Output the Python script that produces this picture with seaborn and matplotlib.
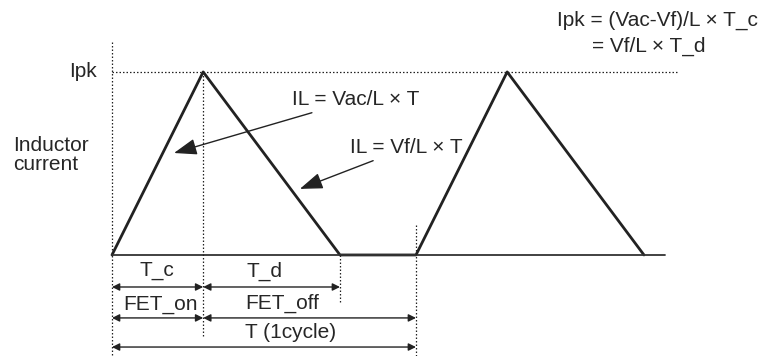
import matplotlib
matplotlib.use("Agg")
import matplotlib.pyplot as plt
import seaborn as sns
import pandas as pd

# --- data: inductor current waveform (critical conduction mode) ---
t_c = 3.0      # FET on time
t_d = 4.5      # diode conduction time
period = 10.0  # one switching cycle
t_end = 18.2   # end of drawn baseline
t_ref = 18.6   # end of the Ipk reference line

wave_t = [0.0, t_c, t_c + t_d, period, period + t_c, period + t_c + t_d]
wave_i = [0.0, 1.0, 0.0, 0.0, 1.0, 0.0]
base_t = [0.0, t_end]
base_i = [0.0, 0.0]

dim_labels = ["T_c", "T_d", "FET_on", "FET_off", "T (1cycle)"]

sns.set_theme(style="white")
plt.rcParams['font.family'] = ['Liberation Sans', 'DejaVu Sans']

fig = plt.figure(figsize=(7.75, 3.56), dpi=100)
ax = fig.add_axes([0, 0, 1, 1])
ax.set_xlim(-3.684, 21.81)
ax.set_ylim(-0.552, 1.393)
ax.axis("off")

# waveform
df = pd.DataFrame({"t": wave_t, "i": wave_i})
sns.lineplot(data=df, x="t", y="i", ax=ax, color="#222222", lw=2.0, sort=False)
sns.lineplot(x=base_t, y=base_i, ax=ax, color="#333333", lw=1.3)

# dotted guide lines
dot = dict(color="#222222", lw=0.9, ls=(0, (1.2, 1.6)))
ax.plot([0, t_ref], [1, 1], **dot)
ax.plot([0, 0], [1.164, -0.552], **dot)
ax.plot([t_c, t_c], [1, -0.448], **dot)
ax.plot([t_c + t_d, t_c + t_d], [0, -0.262], **dot)
ax.plot([period, period], [0.164, -0.552], **dot)

fs = 15
ax.text(-0.5, 1.0, "Ipk", ha="right", va="center", fontsize=fs)
ax.text(-3.26, 0.546, "Inductor\ncurrent", ha="left", va="center", fontsize=fs,
        linespacing=1.0)

# dimension arrows
dim = dict(arrowstyle="<|-|>", color="#222222", lw=1.0, mutation_scale=11,
           shrinkA=0, shrinkB=0)
rows = [(0, t_c, -0.175), (t_c, t_c + t_d, -0.175),
        (0, t_c, -0.344), (t_c, period, -0.344), (0, period, -0.503)]
label_x = [1.48, 5.03, 1.61, 5.59, 5.89]
label_y = [-0.087, -0.087, -0.273, -0.262, -0.421]
for (x0, x1, y), lab, lx, ly in zip(rows, dim_labels, label_x, label_y):
    ax.annotate("", xy=(x1, y), xytext=(x0, y), arrowprops=dim)
    ax.text(lx, ly, lab, ha="center", va="center", fontsize=fs)

# slope callouts
call = dict(arrowstyle="-|>,head_length=0.7,head_width=0.25", color="#222222",
            lw=1.0, mutation_scale=20, shrinkA=0, shrinkB=0)
ax.annotate("IL = Vac/L \u00d7 T", xy=(2.04, 0.557), xytext=(5.92, 0.847),
            ha="left", va="center", fontsize=fs, arrowprops=call)
ax.annotate("IL = Vf/L \u00d7 T", xy=(6.18, 0.361), xytext=(7.83, 0.585),
            ha="left", va="center", fontsize=fs, arrowprops=call)

ax.text(14.64, 1.279, "Ipk = (Vac-Vf)/L \u00d7 T_c", ha="left", va="center", fontsize=fs)
ax.text(15.79, 1.142, "= Vf/L \u00d7 T_d", ha="left", va="center", fontsize=fs)

fig.savefig("out.png", dpi=100)
